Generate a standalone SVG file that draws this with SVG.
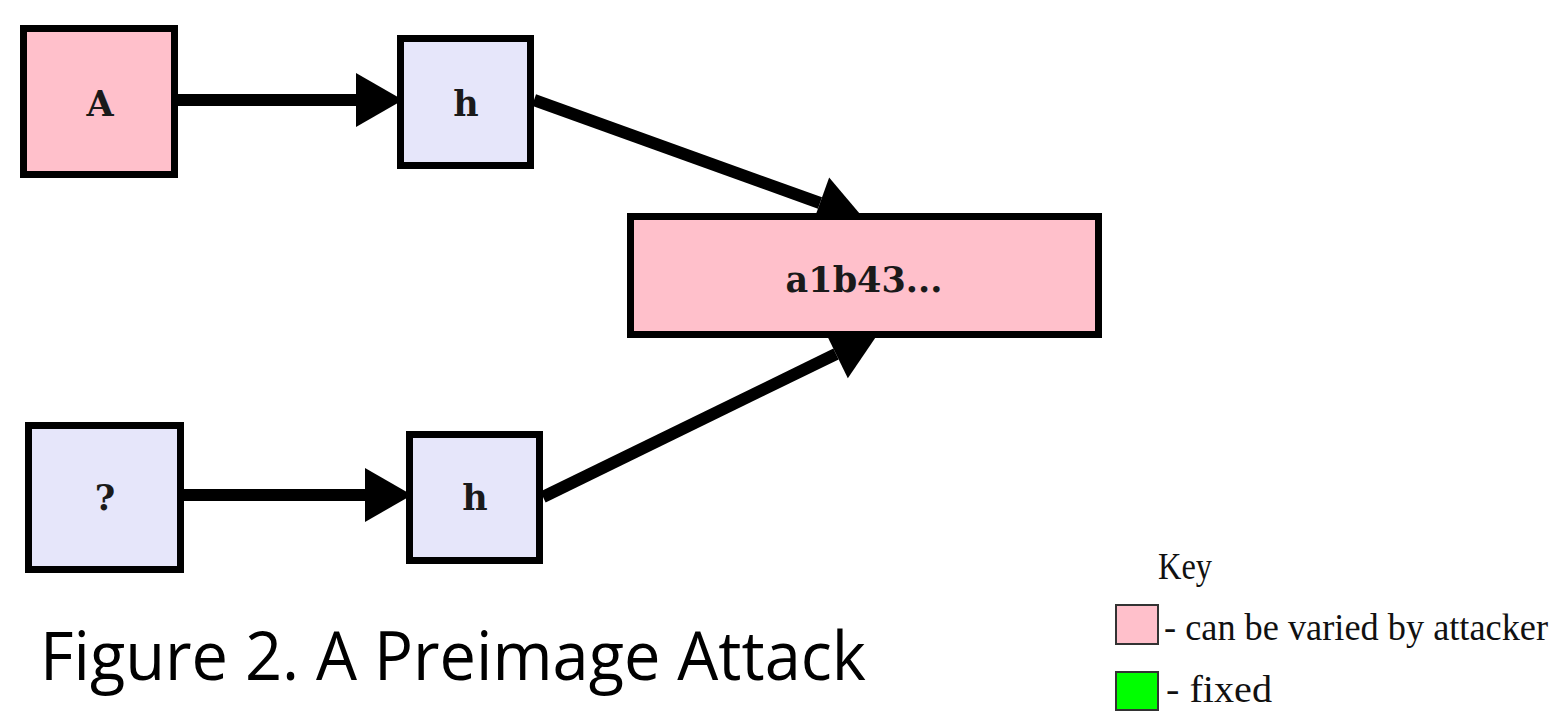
<svg xmlns="http://www.w3.org/2000/svg" width="1559" height="712" viewBox="0 0 1559 712">
<style>
.node{stroke:#000;stroke-width:7}
.pink{fill:#ffc0cb}
.lav{fill:#e6e6fa}
.lbl{font-family:"DejaVu Serif",serif;font-weight:bold;font-size:35px;fill:#1a1a1a;text-anchor:middle}
.edge{stroke:#000;stroke-width:12;fill:none}
.key{font-family:"Liberation Serif",serif;font-size:37px;fill:#111}
.title{font-family:"Open Sans","Noto Sans",sans-serif;font-size:68px;fill:#000}
</style>
<defs>
<marker id="ah" markerUnits="userSpaceOnUse" markerWidth="60" markerHeight="60" viewBox="0 -30 50 60" refX="0" refY="0" orient="auto">
<path d="M0,-27 L47,0 L0,27 Z" fill="#000"/>
</marker>
</defs>
<rect width="1559" height="712" fill="#fff"/>
<g id="connectors">
<line class="edge" x1="178" y1="100" x2="356" y2="100" marker-end="url(#ah)"/>
<line class="edge" x1="534" y1="100" x2="820" y2="203" marker-end="url(#ah)"/>
<line class="edge" x1="184" y1="495" x2="365" y2="495" marker-end="url(#ah)"/>
<line class="edge" x1="543" y1="497" x2="836" y2="354" marker-end="url(#ah)"/>
</g>
<g id="node-A">
<rect class="node pink" x="23.5" y="28.5" width="151" height="146"/>
<text class="lbl" x="100" y="116">A</text>
</g>
<g id="node-h1">
<rect class="node lav" x="400.5" y="38.5" width="130" height="127"/>
<text class="lbl" x="466" y="116">h</text>
</g>
<g id="node-hash">
<rect class="node pink" x="630.5" y="216.5" width="468" height="118"/>
<text class="lbl" x="864" y="292">a1b43...</text>
</g>
<g id="node-q">
<rect class="node lav" x="28.5" y="425.5" width="152" height="144"/>
<text class="lbl" x="105" y="510">?</text>
</g>
<g id="node-h2">
<rect class="node lav" x="409.5" y="434.5" width="130" height="126"/>
<text class="lbl" x="475" y="510">h</text>
</g>
<g id="title">
<text class="title" x="40" y="680" textLength="826" lengthAdjust="spacingAndGlyphs">Figure 2. A Preimage Attack</text>
</g>
<g id="legend">
<text class="key" x="1158" y="579" textLength="54" lengthAdjust="spacingAndGlyphs">Key</text>
<rect x="1116" y="605" width="42" height="39" fill="#ffc0cb" stroke="#333" stroke-width="2"/>
<text class="key" x="1164" y="640" textLength="384" lengthAdjust="spacingAndGlyphs">- can be varied by attacker</text>
<rect x="1116" y="672" width="42" height="38" fill="#00ff00" stroke="#333" stroke-width="2"/>
<text class="key" x="1166" y="702" textLength="106" lengthAdjust="spacingAndGlyphs">- fixed</text>
</g>
</svg>
